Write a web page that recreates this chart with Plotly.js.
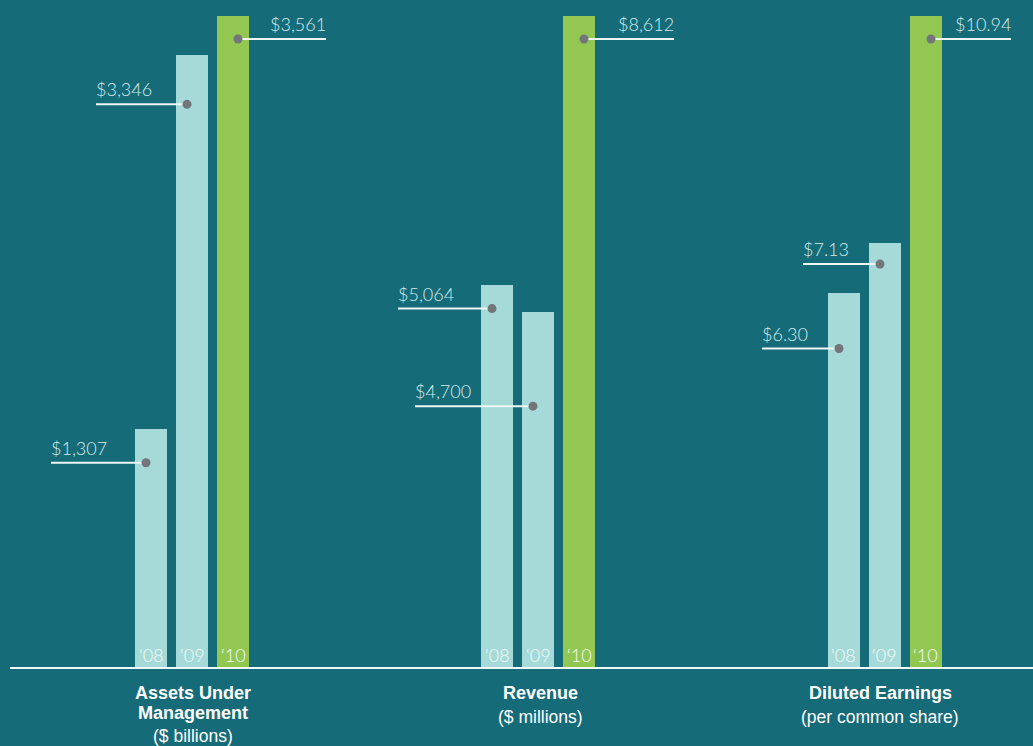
<!DOCTYPE html>
<html>
<head>
<meta charset="utf-8">
<script src="https://cdn.plot.ly/plotly-3.0.1.min.js"></script>
<style>html,body{margin:0;padding:0;background:#166b79;}#chart{width:1033px;height:746px;}</style>
</head>
<body>
<div id="chart"></div>
<script>
// ---- data ----
const years = ['‘08', '‘09', '‘10'];
const groupTitles = ['Assets Under', 'Revenue', 'Diluted Earnings'];
const groupTitles2 = ['Management', '', ''];
const groupUnits = ['($ billions)', '($ millions)', '(per common share)'];
const assets = [1307, 3346, 3561];
const revenue = [5064, 4700, 8612];
const earnings = [6.30, 7.13, 10.94];
const assetsLabels = ['$1,307', '$3,346', '$3,561'];
const revenueLabels = ['$5,064', '$4,700', '$8,612'];
const earningsLabels = ['$6.30', '$7.13', '$10.94'];

// ---- layout / style settings ----
const W = 1033, H = 746;
const BASE = 668, TOP = 16, PITCH = 41, BARW = 32;
const centers = [192, 538, 885];
const titleCenters = [193, 540, 880];
const labelSide = [['left', 'left', 'right'], ['left', 'left', 'right'], ['left', 'left', 'right']];
const dotDrop = [[34, 49, 23], [24, 94, 23], [56, 21, 23]];
const lineLen = [[95, 91, 88], [94, 118, 90], [77, 77, 80]];
const barColors = ['#a5dad8', '#a5dad8', '#92c851'];
const BG = '#166b79';

const series = [assets, revenue, earnings];
const labels = [assetsLabels, revenueLabels, earningsLabels];

const traces = [];
const annotations = [];
const layout = {
  width: W, height: H,
  paper_bgcolor: BG, plot_bgcolor: 'rgba(0,0,0,0)',
  margin: {l: 0, r: 0, t: 0, b: 0},
  showlegend: false,
  bargap: 0,
  annotations: annotations,
  shapes: [{type: 'line', xref: 'paper', yref: 'paper',
    x0: 10 / W, x1: 1, y0: (H - BASE) / H, y1: (H - BASE) / H,
    line: {color: '#f2f7f7', width: 2}}]
};

const third = W / 3;
series.forEach((vals, g) => {
  const sfx = g === 0 ? '' : String(g + 1);
  const xa = 'x' + sfx, ya = 'y' + sfx;
  const d0 = g * third, d1 = (g + 1) * third;
  const left = 1 - (centers[g] - d0) / PITCH;
  const right = left + third / PITCH;
  const maxV = Math.max(...vals);
  const yPerPx = maxV / (BASE - TOP);
  layout['xaxis' + sfx] = {domain: [d0 / W, d1 / W], range: [left, right], visible: false, fixedrange: true};
  layout['yaxis' + sfx] = {domain: [(H - BASE) / H, (H - TOP) / H], range: [0, maxV], visible: false, fixedrange: true};

  traces.push({type: 'bar', x: [0, 1, 2], y: vals, xaxis: xa, yaxis: ya,
    width: BARW / PITCH, marker: {color: barColors, line: {width: 0}}, hoverinfo: 'skip'});

  const lx = [], ly = [], dx = [], dy = [];
  vals.forEach((v, i) => {
    const side = labelSide[g][i];
    const dir = side === 'left' ? -1 : 1;
    const dotX = i + dir * 5 / PITCH;
    const dotY = v - dotDrop[g][i] * yPerPx;
    const endX = dotX + dir * lineLen[g][i] / PITCH;
    lx.push(endX, dotX, null); ly.push(dotY, dotY, null);
    dx.push(dotX); dy.push(dotY);
    annotations.push({xref: xa, yref: ya, x: endX, y: dotY,
      xanchor: side === 'left' ? 'left' : 'right', yanchor: 'bottom', yshift: 2,
      xshift: side === 'left' ? -2 : 2,
      text: labels[g][i], showarrow: false,
      font: {family: 'Lato, "Open Sans", sans-serif', size: 18, color: '#d3ebeb', weight: 300}});
    annotations.push({xref: xa, yref: ya, x: i, y: 0, xanchor: 'center', yanchor: 'bottom', yshift: 0,
      text: years[i], showarrow: false,
      font: {family: 'Lato, "Open Sans", sans-serif', size: 18, color: '#f4fafa', weight: 300}});
  });
  traces.push({type: 'scatter', mode: 'lines', x: lx, y: ly, xaxis: xa, yaxis: ya,
    line: {color: '#eef6f6', width: 2}, hoverinfo: 'skip', cliponaxis: false, connectgaps: false});
  traces.push({type: 'scatter', mode: 'markers', x: dx, y: dy, xaxis: xa, yaxis: ya,
    marker: {color: '#737679', size: 9}, hoverinfo: 'skip', cliponaxis: false});

  const cx = titleCenters[g] / W;
  const titleLines = [];
  titleLines.push({t: '<b>' + groupTitles[g] + '</b>', py: 693, s: 18});
  if (groupTitles2[g]) {
    titleLines.push({t: '<b>' + groupTitles2[g] + '</b>', py: 713, s: 18});
    titleLines.push({t: groupUnits[g], py: 736, s: 17.5});
  } else {
    titleLines.push({t: groupUnits[g], py: 717, s: 17.5});
  }
  titleLines.forEach(l => annotations.push({xref: 'paper', yref: 'paper', x: cx, y: (H - l.py) / H,
    xanchor: 'center', yanchor: 'middle', text: l.t, showarrow: false,
    font: {family: '"Liberation Sans", Arial, sans-serif', size: l.s, color: '#ffffff'}}));
});

Plotly.newPlot('chart', traces, layout, {displayModeBar: false, staticPlot: true});
</script>
</body>
</html>
